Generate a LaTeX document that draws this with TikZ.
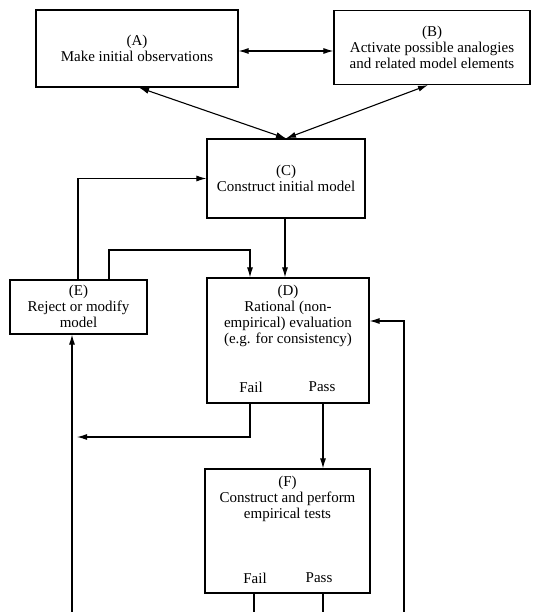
\documentclass[tikz,border=0pt]{standalone}
\usepackage{fontspec}
\setmainfont{Liberation Serif}
\usetikzlibrary{arrows.meta,calc}
\begin{document}
\begin{tikzpicture}[x=1pt,y=1pt,
  box/.style={draw,line width=1.2pt,rectangle,inner sep=0pt},
  txt/.style={align=center,inner sep=0pt,font=\fontsize{15}{16}\selectfont},
  conn/.style={line width=1.1pt,arrows={-Latex[length=10pt,width=6pt]}},
  dconn/.style={line width=1.1pt,arrows={Latex[length=10pt,width=6pt]-Latex[length=10pt,width=6pt]}},
  plain/.style={line width=1.1pt}]
\useasboundingbox (0,0) rectangle (541,-612);
% boxes
\node[box,minimum width=202pt,minimum height=77pt] (A) at (137,-48.5) {};
\node[box,minimum width=196pt,minimum height=74pt] (B) at (432,-47.5) {};
\node[box,minimum width=158pt,minimum height=79pt] (C) at (286,-178.5) {};
\node[box,minimum width=162pt,minimum height=125pt] (D) at (288,-340.5) {};
\node[box,minimum width=137pt,minimum height=54pt] (E) at (78.5,-307) {};
\node[box,minimum width=165pt,minimum height=124pt] (F) at (287.5,-531) {};
% box texts
\node[txt] (tA) at (137,-48) {(A)\\Make initial observations};
\node[txt] (tB) at (432,-47) {(B)\\Activate possible analogies\\and related model elements};
\node[txt] (tC) at (286,-178) {(C)\\Construct initial model};
\node[txt] (tD) at (288,-316) {(D)\\Rational (non-\\empirical) evaluation\\(e.g. for consistency)};
\node[txt] (tDf) at (251,-387) {Fail};
\node[txt] (tDp) at (322,-387) {Pass};
\node[txt] (tE) at (78.5,-306) {(E)\\Reject or modify\\model};
\node[txt] (tF) at (287.5,-499) {(F)\\Construct and perform\\empirical tests};
\node[txt] (tFf) at (255,-578) {Fail};
\node[txt] (tFp) at (319,-578) {Pass};
% helper points
\coordinate (ab) at (0,-51);
\coordinate (cd) at (285,0);
\coordinate (ed) at (109,-250);
\coordinate (dfail) at (250,0);
\coordinate (dpass) at (323,0);
\coordinate (failend) at (77,-437);
\coordinate (leftbot) at (72,-612);
\coordinate (rightbot) at (404,-612);
\coordinate (rightturn) at (404,-321);
\coordinate (ffbot) at (254,-612);
\coordinate (fpbot) at (323,-612);
% connectors
\draw[dconn] ($(A.south)+(2,0)$) -- (C.north);
\draw[dconn] ($(B.south)+(-4,0)$) -- (C.north);
\draw[dconn] (A.east |- ab) -- (B.west |- ab);
\draw[conn] (C.south -| cd) -- (D.north -| cd);
\draw[conn] ($(E.north)+(-0.5,0)$) |- (C.west);
\draw[conn] (E.north -| ed) -- (ed) -| (D.north -| dfail);
\draw[conn] (D.south -| dfail) |- (failend);
\draw[conn] (leftbot) -- (leftbot |- E.south);
\draw[conn] (D.south -| dpass) -- (F.north -| dpass);
\draw[plain] (F.south -| ffbot) -- (ffbot);
\draw[plain] (F.south -| fpbot) -- (fpbot);
\draw[conn] (rightbot) -- (rightturn) -- (rightturn -| D.east);
\end{tikzpicture}
\end{document}
